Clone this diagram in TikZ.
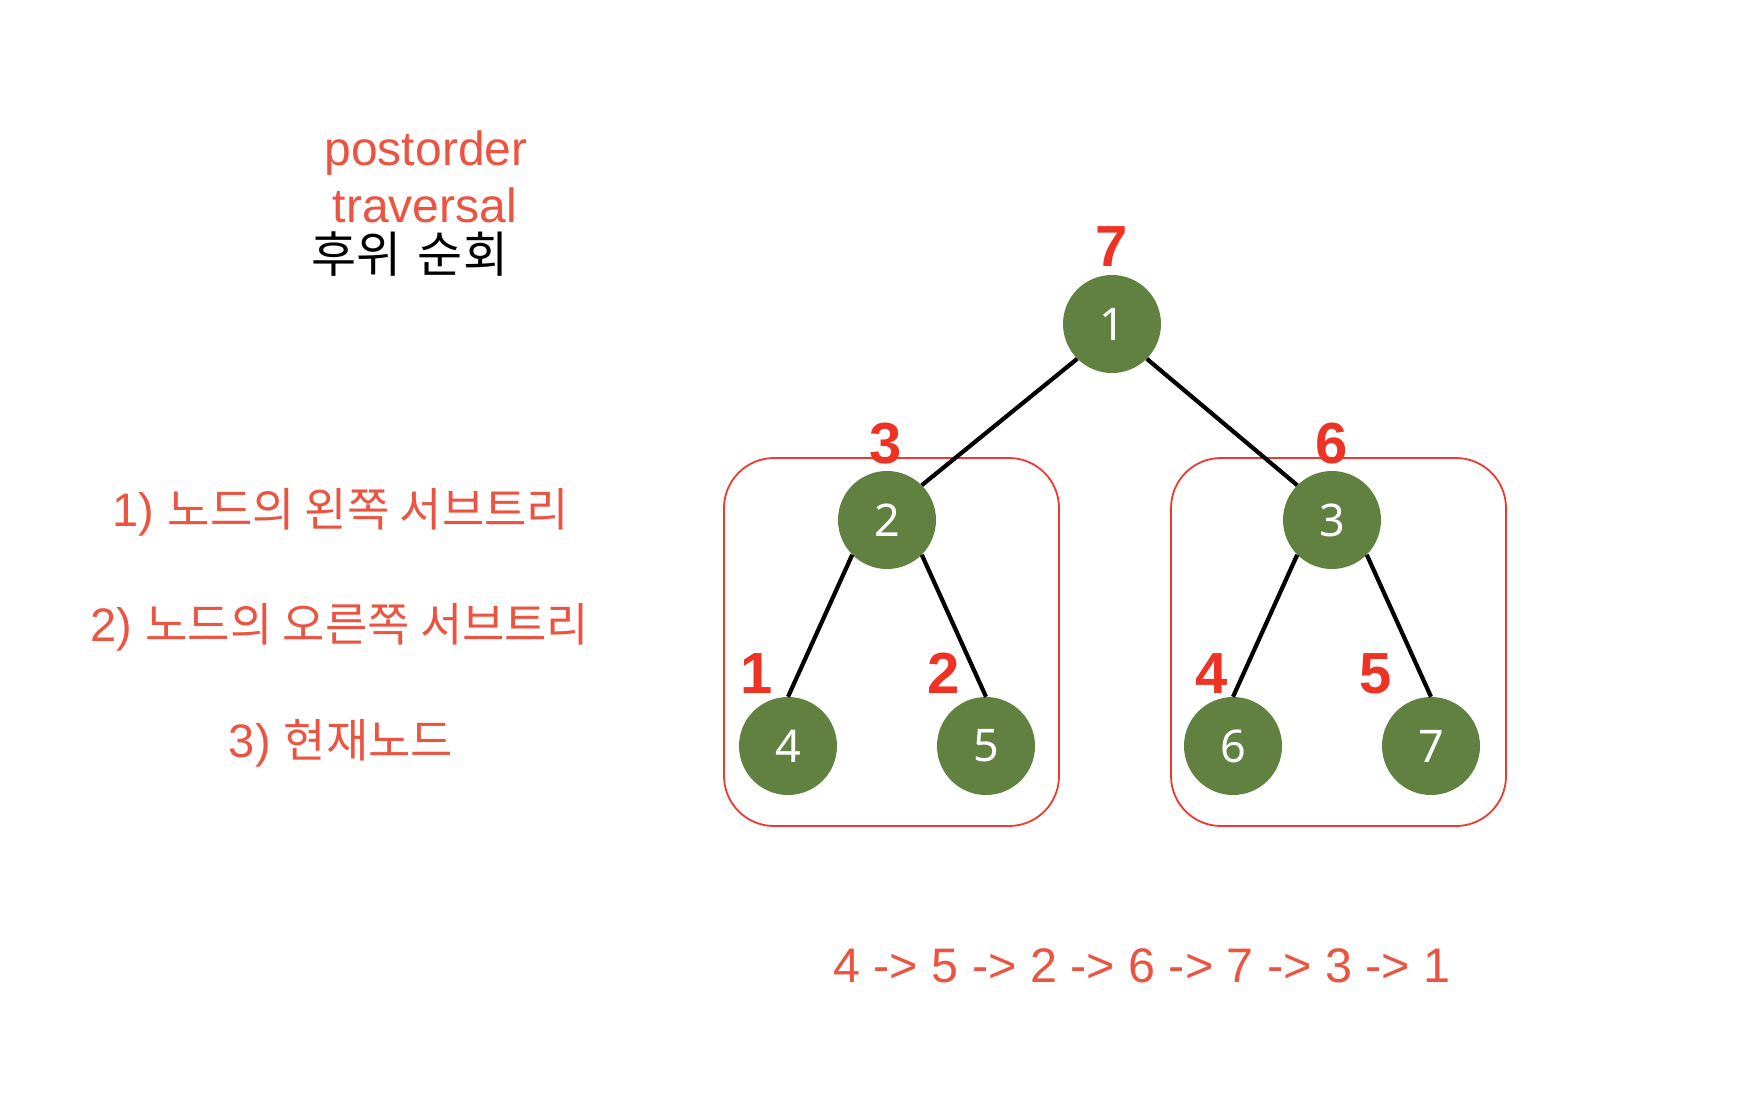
\documentclass[tikz,border=0pt]{standalone}
\usepackage{fontspec}
\setmainfont{Liberation Sans}
\newfontfamily\krfont{Noto Sans CJK KR}
\newfontfamily\nsfont{Noto Sans}
\definecolor{txtred}{RGB}{236,84,66}
\definecolor{ordred}{RGB}{238,50,36}
\definecolor{boxred}{RGB}{236,58,48}
\definecolor{treegreen}{RGB}{97,129,65}
\begin{document}
\begin{tikzpicture}[x=1bp,y=-1bp,
  tnode/.style={circle, fill=treegreen, minimum size=98bp, inner sep=0pt, text=white,
    font=\nsfont\fontsize{45bp}{45bp}\selectfont},
  ordnum/.style={anchor=base, inner sep=0pt, text=ordred,
    font=\bfseries\fontsize{58bp}{58bp}\selectfont},
  edge/.style={draw=black, line width=4.2bp},
  subbox/.style={draw=boxred, line width=1.8bp, rounded corners=50bp},
  redtxt/.style={anchor=base, inner sep=0pt, text=txtred, font=\fontsize{48bp}{48bp}\selectfont},
  listtxt/.style={anchor=base, inner sep=0pt, text=txtred, font=\fontsize{47bp}{47bp}\selectfont},
  kr/.style={anchor=base, inner sep=0pt, text=black, font=\krfont\fontsize{49bp}{49bp}\selectfont}]
\useasboundingbox (0,0) rectangle (1746,1104);
% subtree boxes
\draw[subbox] (724,458) rectangle (1059,826) node[coordinate] (lbox) {};
\draw[subbox] (1171,458) rectangle (1506,826) node[coordinate] (rbox) {};
% tree nodes
\node[tnode] (n1) at (1112,324) {1};
\node[tnode] (n2) at (887,520) {2};
\node[tnode] (n3) at (1332,520) {3};
\node[tnode] (n4) at (788,746) {4};
\node[tnode] (n5) at (986,746) {5};
\node[tnode] (n6) at (1233,746) {6};
\node[tnode] (n7) at (1431,746) {7};
% edges
\draw[edge] (n1.south west) -- (n2.north east);
\draw[edge] (n1.south east) -- (n3.north west);
\draw[edge] (n2.south west) -- (n4.north);
\draw[edge] (n2.south east) -- (n5.north);
\draw[edge] (n3.south west) -- (n6.north);
\draw[edge] (n3.south east) -- (n7.north);
% visit order numbers
\node[ordnum] (o7) at (1112,266) {7};
\node[ordnum] (o3) at (886,463) {3};
\node[ordnum] (o6) at (1332,463) {6};
\node[ordnum] (o1) at (757,693) {1};
\node[ordnum] (o2) at (944,693) {2};
\node[ordnum] (o4) at (1212,693) {4};
\node[ordnum] (o5) at (1376,693) {5};
% title
\node[redtxt] (t1) at (426,165) {postorder};
\node[redtxt] (t2) at (425,222) {traversal};
\node[kr] (t3) at (410,272) {후위\hspace{16bp}순회};
% rules
\node[listtxt] (l1) at (341,526) {1) {\krfont\fontsize{46bp}{46bp}\selectfont 노드의 왼쪽 서브트리}};
\node[listtxt] (l2) at (340,641) {2) {\krfont\fontsize{46bp}{46bp}\selectfont 노드의 오른쪽 서브트리}};
\node[listtxt] (l3) at (341,757) {3) {\krfont\fontsize{46bp}{46bp}\selectfont 현재노드}};
% result sequence
\node[anchor=base, inner sep=0pt, text=txtred, font=\fontsize{48.5bp}{48.5bp}\selectfont] (seq) at (1142,982) {4 -> 5 -> 2 -> 6 -> 7 -> 3 -> 1};
\end{tikzpicture}
\end{document}
